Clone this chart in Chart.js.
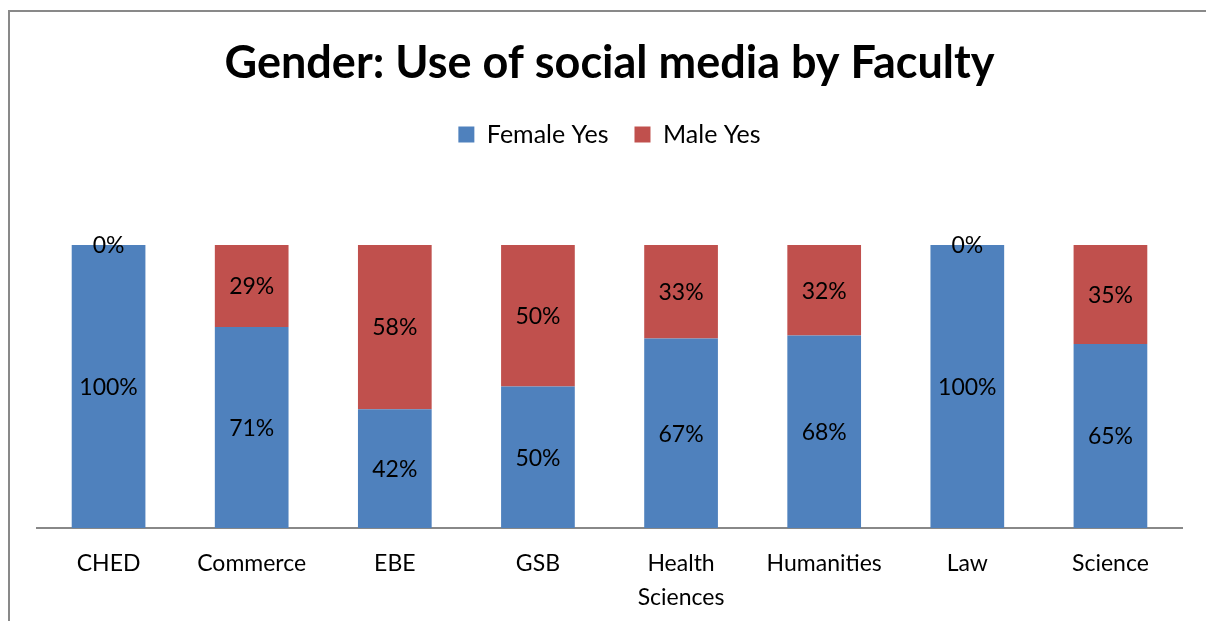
<!DOCTYPE html>
<html>
<head>
<meta charset="utf-8">
<script src="https://cdn.jsdelivr.net/npm/chart.js@4"></script>
<style>
  html, body { margin: 0; padding: 0; background: #fff; }
  #wrap { position: relative; width: 1206px; height: 621px; }
  #frame { position: absolute; left: 8px; top: 10px; right: 0; bottom: 0;
           border-left: 2px solid #898989; border-top: 2px solid #898989; }
  canvas { position: absolute; left: 0; top: 0; }
</style>
</head>
<body>
<div id="wrap">
  <div id="frame"></div>
  <canvas id="chart" width="1206" height="621"></canvas>
</div>
<script>
  const faculties = ['CHED', 'Commerce', 'EBE', 'GSB', ['Health', 'Sciences'], 'Humanities', 'Law', 'Science'];
  const femaleYes = [100, 71, 42, 50, 67, 68, 100, 65];
  const maleYes = [0, 29, 58, 50, 33, 32, 0, 35];

  const FONT = 'Lato, "Open Sans", sans-serif';

  // percent labels in the middle of each segment
  const segmentLabels = {
    id: 'segmentLabels',
    afterDatasetsDraw(chart) {
      const ctx = chart.ctx;
      ctx.save();
      ctx.font = '23px ' + FONT;
      ctx.fillStyle = '#000';
      ctx.textAlign = 'center';
      ctx.textBaseline = 'middle';
      chart.data.datasets.forEach((ds, i) => {
        chart.getDatasetMeta(i).data.forEach((bar, j) => {
          const y = (bar.y + bar.base) / 2;
          ctx.fillText(ds.data[j] + '%', bar.x, y + 1);
        });
      });
      ctx.restore();
    }
  };

  // extra room under the legend
  const legendGap = {
    id: 'legendGap',
    beforeInit(chart) {
      const fit = chart.legend.fit;
      chart.legend.fit = function() {
        fit.bind(chart.legend)();
        this.height += 88;
      };
    }
  };

  new Chart(document.getElementById('chart').getContext('2d'), {
    type: 'bar',
    data: {
      labels: faculties,
      datasets: [
        { label: 'Female Yes', data: femaleYes, backgroundColor: '#4F81BD' },
        { label: 'Male Yes', data: maleYes, backgroundColor: '#C0504D' }
      ]
    },
    options: {
      responsive: false,
      animation: false,
      layout: { padding: { left: 37, right: 24, bottom: 0 } },
      datasets: { bar: { barPercentage: 0.515, categoryPercentage: 1 } },
      scales: {
        x: {
          stacked: true,
          grid: { display: false },
          border: { color: '#888', width: 2 },
          ticks: { color: '#000', font: { family: FONT, size: 23, lineHeight: 1.46 }, padding: 11, maxRotation: 0 },
          afterFit(scale) { scale.height = 93; }
        },
        y: { stacked: true, display: false, min: 0, max: 100 }
      },
      plugins: {
        title: {
          display: true,
          text: 'Gender: Use of social media by Faculty',
          color: '#000',
          font: { family: FONT, size: 45, weight: 'bold' },
          padding: { top: 36, bottom: 6 }
        },
        legend: {
          labels: {
            color: '#000',
            font: { family: FONT, size: 25 },
            boxWidth: 16, boxHeight: 16, padding: 26
          }
        },
        tooltip: { enabled: false }
      }
    },
    plugins: [segmentLabels, legendGap]
  });
</script>
</body>
</html>
